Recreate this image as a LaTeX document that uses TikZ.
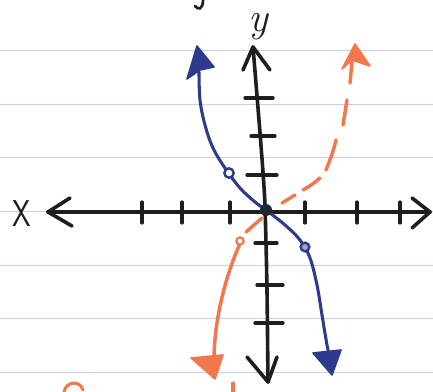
\documentclass[tikz,border=0pt]{standalone}
\usetikzlibrary{arrows.meta}
\definecolor{penblue}{HTML}{2E3A8C}
\definecolor{penorange}{HTML}{F2784B}
\definecolor{ruleblue}{HTML}{C6CEE8}
\definecolor{ink}{HTML}{1E1E1E}
\begin{document}
\begin{tikzpicture}[x=0.75pt,y=-0.75pt,
  ruleline/.style={ruleblue, line width=0.7pt},
  axis/.style={ink, line width=2.7pt, line cap=round, line join=round},
  tickmark/.style={ink, line width=2.4pt, line cap=round},
  bluecurve/.style={penblue, line width=2.3pt, line cap=round},
  orangecurve/.style={penorange, line width=2.6pt, line cap=round},
  bluehead/.style={fill=penblue, draw=penblue, line width=1.2pt, line join=round},
  orangehead/.style={fill=penorange, draw=penorange, line width=1.2pt, line join=round},
  label/.style={inner sep=0pt, text=ink}
 ]
\useasboundingbox (0,0) rectangle (433,392);
\fill[white] (0,0) rectangle (433,392);
\foreach \yy in {50,104,157,211,265,318,372} \draw[ruleline] (0,\yy) -- (433,\yy);

% axes
\coordinate (xl) at (48,212);
\coordinate (xr) at (430,212);
\coordinate (yt) at (253,47);
\coordinate (ym) at (265,205);
\coordinate (yb) at (268,382);
\draw[axis] (xl) -- (xr);
\draw[axis] (yt) .. controls (259,120) and (264,180) .. (ym) .. controls (267,280) .. (yb);
\draw[axis] (70,198) -- (xl) -- (72,226);
\draw[axis] (412,198) -- (xr) -- (412,228);
\draw[axis] (243,70) -- (yt) -- (270,70);
\draw[axis] (247,357) -- (yb) -- (277,357);

% ticks
\foreach \xx in {142,182,230,305,357,400} \draw[tickmark] (\xx,202) -- (\xx,223);
\draw[tickmark] (245,98) -- (273,98);
\draw[tickmark] (251,136) -- (275,136);
\draw[tickmark] (247,175) -- (277,175);
\draw[tickmark] (255,243) -- (277,243);
\draw[tickmark] (257,285) -- (283,285);
\draw[tickmark] (255,323) -- (283,323);

% labels
\node[label, font=\fontsize{31}{31}\selectfont\itshape] (ylab) at (258,27) {y};
\node[label, font=\fontsize{28}{28}\selectfont\sffamily, xscale=0.8] (xlab) at (22,214) {X};

% blue curve
\draw[bluecurve] plot[smooth, tension=0.6] coordinates {(199,72) (200,100) (205,125) (213,148) (225,168) (240,188) (255,202) (266,210) (285,225) (300,240) (310,258) (317,285) (322,315) (327,345) (330,358)};
\draw[bluehead] (197,46) -- (214,67) -- (200,70) -- (187,79) -- cycle;
\draw[bluehead] (313,353) -- (341,350) -- (332,375) -- cycle;
\node[circle, draw=penblue, fill=white, line width=1.8pt, minimum size=7pt, inner sep=0pt] (bdot1) at (229,173) {};
\node[circle, draw=penblue, fill=penblue!45, line width=1.8pt, minimum size=6.5pt, inner sep=0pt] (bdot2) at (305,247) {};

% orange curve
\draw[orangecurve] (352,62) -- (350,83);
\draw[orangecurve] (347,100) -- (343,125);
\draw[orangecurve] (336,140) .. controls (333,152) .. (326,170);
\draw[orangecurve] (320,178) .. controls (313,184) .. (303,190);
\draw[orangecurve] (295,195) -- (282,203);
\draw[orangecurve] (262,218) -- (246,232);
\draw[orangehead] (355,44) -- (370,66) -- (352,60) -- (342,69) -- cycle;
\draw[orangecurve] (239,246) .. controls (226,275) and (214,320) .. (214,360);
\draw[orangehead] (191,358) -- (223,355) -- (215,379) -- cycle;
\node[circle, draw=penorange, fill=white, line width=1.6pt, minimum size=5.5pt, inner sep=0pt] (odot) at (240,241) {};

% origin
\node[circle, fill=ink!80!penblue, minimum size=9pt, inner sep=0pt] (origin) at (266,210) {};

% cut-off fragments at the edges
\draw[ink, line width=2pt, line cap=round] (203,0) .. controls (203,10) and (198,10) .. (195,6);
\draw[penorange, line width=2.3pt, line cap=round] (64,392) .. controls (66,381) and (80,380) .. (83,390);
\draw[penorange, line width=2.3pt, line cap=round] (233,383) -- (233,392);
\end{tikzpicture}
\end{document}
